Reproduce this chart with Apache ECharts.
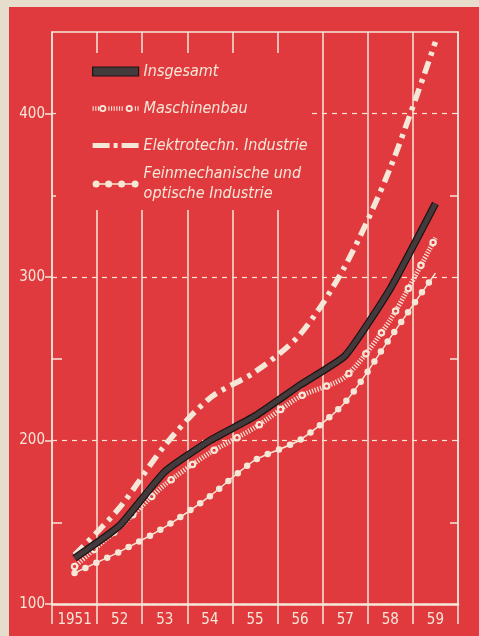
<!DOCTYPE html>
<html>
<head>
<meta charset="utf-8">
<script src="https://cdn.jsdelivr.net/npm/echarts@6/dist/echarts.min.js"></script>
<style>
  html, body { margin: 0; padding: 0; background: #e6ddcc; }
  #main { position: absolute; left: 9px; top: 7px; width: 470px; height: 629px; }
</style>
</head>
<body>
<div id="main"></div>
<script>
// Produktionsindex, 1950 = 100
var years = [1951, 1952, 1953, 1954, 1955, 1956, 1957, 1958, 1959]
var yearLabels = ['1951', '52', '53', '54', '55', '56', '57', '58', '59']
var yTicks = [100, 200, 300, 400]
var yMinorTicks = [150, 250, 350]

var insgesamt = [128, 148, 181, 200, 215, 234, 252, 293, 345]
var maschinenbau = [123, 147, 173, 192.5, 208, 227, 239, 274, 324]
var elektro = [130, 159, 197, 226, 242, 265, 307, 367, 444]
var feinmech = [119, 132, 147, 166, 188, 200.5, 223.5, 263, 302.5]

var red = '#e13a3e'
var cream = '#f5e7d8'
var dark = '#433a3c'
var font = '"DejaVu Sans Condensed", "Liberation Sans Narrow", "DejaVu Sans", sans-serif'

function pairs (vals) {
  return vals.map(function (v, i) { return [years[i], v] })
}

function mk (name, vals, smooth, color, width, type, cap) {
  return {
    name: name,
    type: 'line',
    xAxisIndex: 1,
    yAxisIndex: 0,
    data: pairs(vals),
    smooth: smooth,
    symbol: 'none',
    silent: true,
    animation: false,
    color: color,
    lineStyle: { color: color, width: width, type: type || 'solid', cap: cap || 'butt' }
  }
}

// legend icon shapes (46 x 14 box)
function circle (cx, cy, r, ccw) {
  var f = ccw ? 0 : 1
  return 'M' + (cx - r) + ',' + cy + ' A' + r + ',' + r + ' 0 1,' + f + ' ' + (cx + r) + ',' + cy +
    ' A' + r + ',' + r + ' 0 1,' + f + ' ' + (cx - r) + ',' + cy + ' Z '
}
function rect (x0, y0, x1, y1) {
  return 'M' + x0 + ',' + y0 + ' L' + x1 + ',' + y0 + ' L' + x1 + ',' + y1 + ' L' + x0 + ',' + y1 + ' Z '
}
var iconInsg = 'path://' + rect(0, 2.5, 46, 11.5)
var iconMasch = (function () {
  var p = ''
  var xs = [0, 2.6, 5.2, 15.5, 18.1, 20.7, 23.3, 25.9, 28.5, 41.5, 44.1]
  xs.forEach(function (x) { p += rect(x, 4.8, x + 1.1, 9.2) })
  p += circle(10, 7, 3.5) + circle(10, 7, 1.7, true)
  p += circle(36, 7, 3.5) + circle(36, 7, 1.7, true)
  return 'path://' + p
})()
var iconElek = 'path://' + rect(0, 4.5, 17, 9.5) + rect(21, 4.5, 25, 9.5) + rect(29, 4.5, 46, 9.5)
var iconFein = 'path://' + rect(3.5, 6.3, 42.5, 7.7) + circle(3.5, 7, 3.5) + circle(16, 7, 3.5) +
  circle(29, 7, 3.5) + circle(42.5, 7, 3.5)

var option = {
  backgroundColor: red,
  animation: false,
  grid: { left: 43, right: 21, top: 25, bottom: 32 },
  legend: {
    orient: 'vertical',
    left: 47,
    top: 46,
    padding: [0, 4, 6, 36],
    itemWidth: 46,
    itemHeight: 14,
    itemGap: 0,
    backgroundColor: red,
    selectedMode: false,
    textStyle: { color: cream, fontSize: 16, fontStyle: 'italic', fontFamily: font, lineHeight: 37 },
    formatter: function (n) { return n.replace(' und ', ' und\n') },
    data: [
      { name: 'Insgesamt', icon: iconInsg, itemStyle: { color: dark, borderColor: '#1c1517', borderWidth: 1.2 } },
      { name: 'Maschinenbau', icon: iconMasch, itemStyle: { color: cream, borderWidth: 0 } },
      { name: 'Elektrotechn. Industrie', icon: iconElek, itemStyle: { color: cream, borderWidth: 0 } },
      { name: 'Feinmechanische und optische Industrie', icon: iconFein, itemStyle: { color: cream, borderWidth: 0 },
        textStyle: { lineHeight: 20 } }
    ]
  },
  xAxis: [
    {
      type: 'category',
      data: yearLabels,
      position: 'bottom',
      boundaryGap: true,
      axisLine: { show: true, onZero: false, lineStyle: { color: cream, width: 2.5 } },
      axisTick: { show: true, interval: 0, length: 20, lineStyle: { color: cream, width: 1.5 } },
      axisLabel: { interval: 0, color: cream, fontSize: 15, fontFamily: font, margin: 9 },
      splitLine: { show: true, interval: 0, lineStyle: { color: cream, width: 1.5 } }
    },
    {
      type: 'value',
      position: 'top',
      min: 1950.5,
      max: 1959.5,
      axisLine: { show: true, onZero: false, lineStyle: { color: cream, width: 1.5 } },
      axisTick: { show: false },
      axisLabel: { show: false },
      splitLine: { show: false }
    }
  ],
  yAxis: [
    {
      type: 'value',
      position: 'left',
      min: 100,
      max: 450,
      interval: 100,
      axisLine: { show: true, onZero: false, lineStyle: { color: cream, width: 1.5 } },
      axisTick: { show: true, length: 7, customValues: yTicks, lineStyle: { color: cream, width: 1.5 } },
      axisLabel: { customValues: yTicks, color: cream, fontSize: 15, fontFamily: font, margin: 7 },
      splitLine: { show: true, lineStyle: { color: cream, width: 1.2, type: [5, 5] } }
    },
    {
      type: 'value',
      position: 'left',
      min: 100,
      max: 450,
      axisLine: { show: false, onZero: false },
      axisTick: { show: true, inside: true, length: 10, customValues: yMinorTicks, lineStyle: { color: cream, width: 1.5 } },
      axisLabel: { show: false },
      splitLine: { show: false }
    },
    {
      type: 'value',
      position: 'right',
      min: 100,
      max: 450,
      axisLine: { show: true, onZero: false, lineStyle: { color: cream, width: 1.5 } },
      axisTick: { show: true, inside: true, length: 8, customValues: yMinorTicks, lineStyle: { color: cream, width: 1.5 } },
      axisLabel: { show: false },
      splitLine: { show: false }
    }
  ],
  series: [
    mk('_fein_line', feinmech, 0.25, cream, 1.5),
    mk('Feinmechanische und optische Industrie', feinmech, 0.25, cream, 6.5, [0, 12], 'round'),
    mk('Maschinenbau', maschinenbau, 0.25, cream, 5, [1.2, 1.6]),
    mk('_masch_ring', maschinenbau, 0.25, cream, 7.5, [0, 26], 'round'),
    mk('_masch_hole', maschinenbau, 0.25, red, 3.2, [0, 26], 'round'),
    mk('Elektrotechn. Industrie', elektro, 0.3, cream, 5.5, [13, 6, 4, 6]),
    mk('_insg_edge', insgesamt, 0.15, '#1c1517', 7.5),
    mk('Insgesamt', insgesamt, 0.15, dark, 5)
  ]
}

var myChart = echarts.init(document.getElementById('main'))
myChart.setOption(option)
</script>
</body>
</html>
